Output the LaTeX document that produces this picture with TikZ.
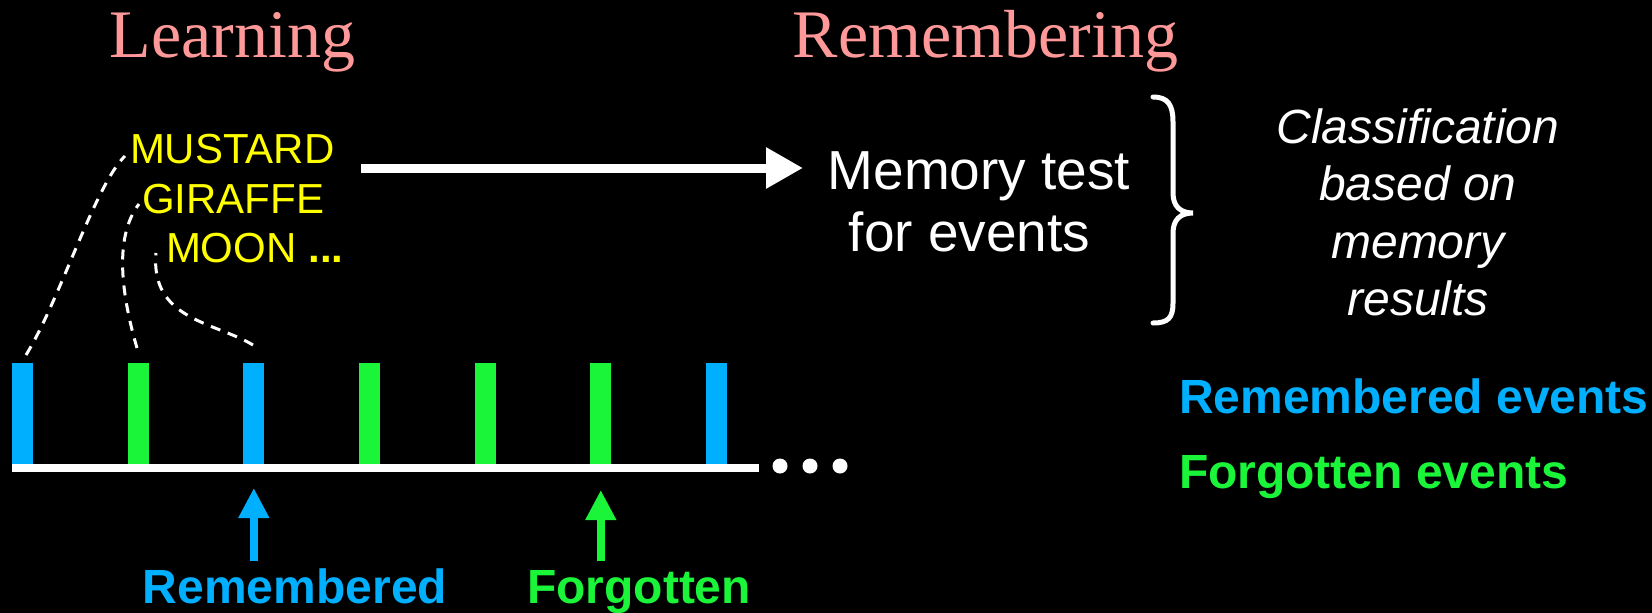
\documentclass[tikz,border=0pt]{standalone}
\usepackage{fontspec}
\setmainfont{Liberation Serif}
\newfontfamily\arialf{Liberation Sans}
\usetikzlibrary{arrows.meta,calc}
\definecolor{salmon}{RGB}{255,153,153}
\definecolor{remblue}{RGB}{0,176,255}
\definecolor{forgreen}{RGB}{26,245,58}
\definecolor{wordyellow}{RGB}{255,255,0}
\begin{document}
\begin{tikzpicture}[x=1pt,y=-1pt,
  txt/.style={inner sep=0pt,outer sep=0pt},
  title/.style={txt,text=salmon,font=\fontsize{68}{80}\selectfont},
  word/.style={txt,text=wordyellow,font=\arialf\fontsize{42}{50}\selectfont},
  memtxt/.style={txt,text=white,font=\arialf\fontsize{55}{62}\selectfont},
  cls/.style={txt,text=white,font=\arialf\itshape\fontsize{48}{57}\selectfont},
  legend/.style={txt,font=\arialf\bfseries\fontsize{48}{57}\selectfont},
  bar/.style={draw=none,minimum width=21pt,minimum height=101pt,inner sep=0pt,outer sep=0pt,anchor=south},
  dashcurve/.style={white,line width=3pt,dash pattern=on 10pt off 8pt},
  bigarrow/.style={white,line width=9pt,-{Triangle[length=37pt,width=39pt]}},
  uparrow/.style={line width=8pt,-{Triangle[length=30pt,width=29pt]}},
  dot/.style={circle,fill=white,minimum size=15pt,inner sep=0pt},
]
\fill[black] (0,0) rectangle (1652,613);
\useasboundingbox (0,0) rectangle (1652,613);

% titles
\node[title,anchor=base] (tlearn) at (232.5,57) {Learning};
\node[title,anchor=base] (tremem) at (985.5,57) {Remembering};

% words
\node[word,anchor=base west] (w1) at (130,163) {MUSTARD};
\node[word,anchor=base west] (w2) at (142,213) {GIRAFFE};
\node[word,anchor=base west] (w3) at (166,262) {MOON \textbf{...}};

% memory test
\node[memtxt,anchor=base] (mem1) at (979,189) {Memory test};
\node[memtxt,anchor=base] (mem2) at (969.5,251) {for events};
\coordinate (arrs) at (361,168);
\coordinate (arre) at (803,168);
\draw[bigarrow] (arrs) -- (arre);

% brace
\draw[white,line width=5pt,line cap=round]
  (1153,97) .. controls (1168,97) and (1173,105) .. (1173,122)
  -- (1173,193) .. controls (1173,206) and (1180,213) .. (1193,213)
  .. controls (1180,213) and (1173,220) .. (1173,233)
  -- (1173,303) .. controls (1173,318) and (1168,323) .. (1153,323);

% classification
\node[cls,anchor=base] (cl1) at (1418,143) {Classification};
\node[cls,anchor=base] (cl2) at (1418,200) {based on};
\node[cls,anchor=base] (cl3) at (1418,258) {memory};
\node[cls,anchor=base] (cl4) at (1418,315) {results};

% legend
\node[legend,text=remblue,anchor=base west] (lg1) at (1179,413) {Remembered events};
\node[legend,text=forgreen,anchor=base west] (lg2) at (1179,488) {Forgotten events};

% bars
\node[bar,fill=remblue]  (b1) at (22.5,464) {};
\node[bar,fill=forgreen] (b2) at (138.2,464) {};
\node[bar,fill=remblue]  (b3) at (253.8,464) {};
\node[bar,fill=forgreen] (b4) at (369.5,464) {};
\node[bar,fill=forgreen] (b5) at (485.2,464) {};
\node[bar,fill=forgreen] (b6) at (600.8,464) {};
\node[bar,fill=remblue]  (b7) at (716.5,464) {};

% time line
\coordinate (ls) at (12,468);
\coordinate (le) at (759,468);
\draw[white,line width=8pt] (ls) -- (le);
\node[dot] (d1) at (780,466) {};
\node[dot] (d2) at (810,466) {};
\node[dot] (d3) at (840,466) {};

% dashed links
\draw[dashcurve] ($(b1.north)+(3.5,-8)$) .. controls (60,300) and (95,185) .. ($(w1.base west)+(-5,-7)$);
\draw[dashcurve] ($(b2.north)+(-1.2,-15)$) .. controls (120,290) and (115,235) .. ($(w2.base west)+(-3,-9)$);
\draw[dashcurve] ($(b3.north)+(-0.8,-18)$) .. controls (215,322) and (150,320) .. ($(w3.base west)+(-10,-9)$);

% bottom labels and arrows
\node[legend,text=remblue,anchor=base] (lr) at (295,603) {Remembered};
\node[legend,text=forgreen,anchor=base] (lf) at (639,603) {Forgotten};
\coordinate (a1s) at (253.8,561);
\coordinate (a1e) at (253.8,488);
\coordinate (a2s) at (600.8,561);
\coordinate (a2e) at (600.8,490);
\draw[uparrow,remblue] (a1s) -- (a1e);
\draw[uparrow,forgreen] (a2s) -- (a2e);
\end{tikzpicture}
\end{document}
